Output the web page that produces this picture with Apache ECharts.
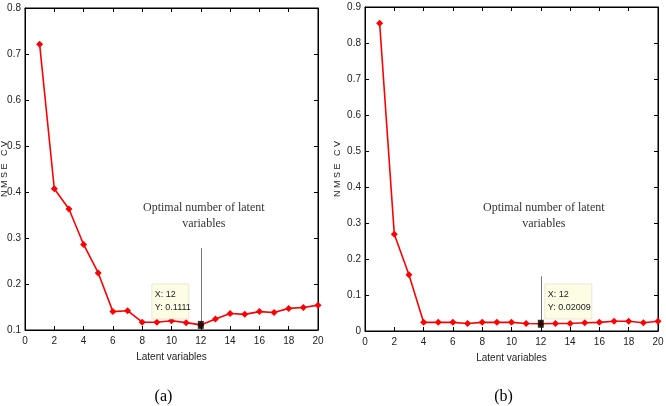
<!DOCTYPE html>
<html>
<head>
<meta charset="utf-8">
<script src="https://cdn.jsdelivr.net/npm/echarts@6/dist/echarts.min.js"></script>
<style>
  html, body { margin: 0; padding: 0; background: #fff; }
  #chart { width: 666px; height: 406px; }
</style>
</head>
<body>
<div id="chart"></div>
<script>
// number of latent variables
const latentVars = [1, 2, 3, 4, 5, 6, 7, 8, 9, 10, 11, 12, 13, 14, 15, 16, 17, 18, 19, 20]
// NMSE CV, panel (a)
const nmseA = [0.721, 0.407, 0.363, 0.286, 0.224, 0.140, 0.142, 0.117, 0.117, 0.120,
  0.116, 0.1111, 0.124, 0.136, 0.134, 0.140, 0.138, 0.147, 0.149, 0.154]
// NMSE CV, panel (b)
const nmseB = [0.855, 0.269, 0.156, 0.024, 0.024, 0.024, 0.021, 0.024, 0.024, 0.024,
  0.021, 0.02009, 0.021, 0.021, 0.023, 0.024, 0.027, 0.027, 0.023, 0.027]
// the chosen point on each panel
const optimal = [{ x: 12, y: 0.1111 }, { x: 12, y: 0.02009 }]
const captions = ['(a)', '(b)']

const narrow = '"Liberation Sans Narrow", "Arial Narrow", "Liberation Sans", sans-serif'
const serif = '"Liberation Serif", "Times New Roman", serif'

const chart = echarts.init(document.getElementById('chart'))

// two panels, each with a bottom/left axis plus mirrored top/right ticks
function xAxes (gridIndex) {
  const base = {
    gridIndex: gridIndex,
    type: 'value',
    min: 0,
    max: 20,
    interval: 2,
    splitLine: { show: false },
    axisLine: { show: true, onZero: false, lineStyle: { color: '#000', width: 1 } },
    axisTick: { show: true, inside: true, length: 4, lineStyle: { color: '#000' } }
  }
  return [
    Object.assign({}, base, {
      position: 'bottom',
      axisLabel: { color: '#222', fontFamily: narrow, fontSize: 10, margin: 6 },
      name: 'Latent variables',
      nameLocation: 'middle',
      nameGap: 22,
      nameMoveOverlap: false,
      nameTextStyle: { color: '#222', fontFamily: narrow, fontSize: 10 }
    }),
    Object.assign({}, base, { position: 'top', axisLabel: { show: false } })
  ]
}

function yAxes (gridIndex, min, max, gap) {
  const base = {
    gridIndex: gridIndex,
    type: 'value',
    min: min,
    max: max,
    interval: 0.1,
    splitLine: { show: false },
    axisLine: { show: true, onZero: false, lineStyle: { color: '#000', width: 1 } },
    axisTick: { show: true, inside: true, length: 4, lineStyle: { color: '#000' } }
  }
  return [
    Object.assign({}, base, {
      position: 'left',
      axisLabel: {
        color: '#222',
        fontFamily: narrow,
        fontSize: 10,
        margin: 4,
        formatter: (v) => String(Math.round(v * 10) / 10)
      },
      name: 'N M S E   C V',
      nameLocation: 'middle',
      nameGap: gap,
      nameMoveOverlap: false,
      nameTextStyle: { color: '#222', fontFamily: narrow, fontSize: 9 }
    }),
    Object.assign({}, base, { position: 'right', axisLabel: { show: false } })
  ]
}

function curve (idx, values) {
  return {
    type: 'line',
    xAxisIndex: idx * 2,
    yAxisIndex: idx * 2,
    data: latentVars.map((x, i) => [x, values[i]]),
    symbol: 'diamond',
    symbolSize: 7,
    lineStyle: { color: '#ff0000', width: 1.6 },
    itemStyle: { color: '#ff0000' },
    z: 3
  }
}

function marker (idx, topY) {
  const p = optimal[idx]
  return {
    type: 'scatter',
    xAxisIndex: idx * 2,
    yAxisIndex: idx * 2,
    data: [[p.x, p.y]],
    symbol: 'rect',
    symbolSize: [6, 8],
    itemStyle: { color: '#000' },
    z: 5,
    markLine: {
      silent: true,
      symbol: ['none', 'none'],
      lineStyle: { color: '#777', width: 1, type: 'solid' },
      label: { show: false },
      data: [[{ coord: [p.x, topY] }, { coord: [p.x, p.y + (idx === 0 ? 0.006 : 0.008)] }]]
    }
  }
}

const option = {
  animation: false,
  backgroundColor: '#fff',
  grid: [
    { left: 25, top: 8, width: 293, height: 322, outerBoundsMode: 'none', containLabel: false, show: true, borderColor: '#000', borderWidth: 1 },
    { left: 365, top: 7, width: 293, height: 324, outerBoundsMode: 'none', containLabel: false, show: true, borderColor: '#000', borderWidth: 1 }
  ],
  xAxis: xAxes(0).concat(xAxes(1)),
  yAxis: yAxes(0, 0.1, 0.8, 16).concat(yAxes(1, 0, 0.9, 23)),
  series: [
    curve(0, nmseA),
    curve(1, nmseB),
    marker(0, 0.278),
    marker(1, 0.152)
  ]
}
chart.setOption(option)

// annotations placed from the chart's own coordinate conversion
const graphics = []
optimal.forEach((p, idx) => {
  const pt = chart.convertToPixel({ xAxisIndex: idx * 2, yAxisIndex: idx * 2 }, [p.x, p.y])
  const left = chart.convertToPixel({ xAxisIndex: idx * 2 }, 0)
  const right = chart.convertToPixel({ xAxisIndex: idx * 2 }, 20)
  // label above the leader line
  graphics.push({
    type: 'text',
    x: pt[0] + 3,
    y: 216,
    style: {
      text: 'Optimal number of latent\nvariables',
      fontFamily: serif,
      fontSize: 12,
      fill: '#333',
      align: 'center',
      verticalAlign: 'middle',
      lineHeight: 16
    }
  })
  // datatip box
  const boxW = idx === 0 ? 37 : 47
  const boxX = idx === 0 ? pt[0] - 49 : pt[0] + 4
  graphics.push({
    type: 'rect',
    shape: { x: boxX, y: 284, width: boxW, height: 35 },
    style: { fill: '#fdfde6', stroke: '#d8d8c0', lineWidth: 0.6 },
    z: 10
  })
  graphics.push({
    type: 'text',
    x: boxX + 3,
    y: 301,
    style: {
      text: 'X: ' + p.x + '\nY: ' + p.y,
      fontFamily: narrow,
      fontSize: 9,
      fill: '#222',
      verticalAlign: 'middle',
      lineHeight: 13
    },
    z: 11
  })
  // panel caption
  graphics.push({
    type: 'text',
    x: (left + right) / 2 - 8,
    y: 397,
    style: {
      text: captions[idx],
      fontFamily: serif,
      fontSize: 16,
      fill: '#000',
      align: 'center',
      verticalAlign: 'middle'
    }
  })
})
chart.setOption({ graphic: graphics })
</script>
</body>
</html>
